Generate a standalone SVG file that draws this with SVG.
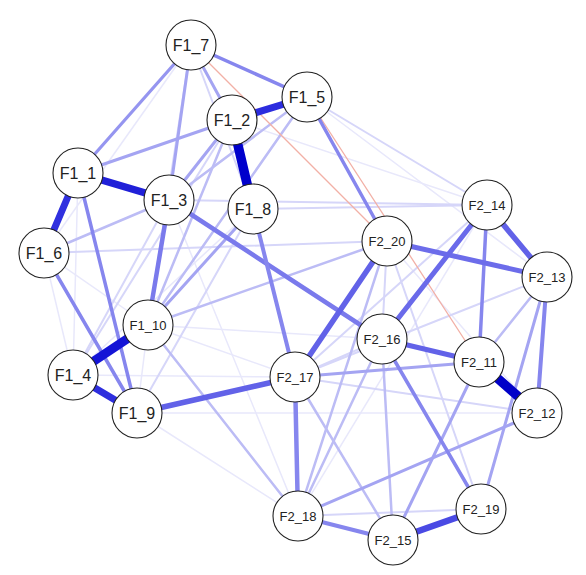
<svg xmlns="http://www.w3.org/2000/svg" width="586" height="575" viewBox="0 0 586 575">
<style>
line{stroke-linecap:round;fill:none}
.e7{stroke:#e8e8fb;stroke-width:1.5}
.e6{stroke:#d6d6f9;stroke-width:2}
.e5{stroke:#bcbcf5;stroke-width:2.5}
.e4{stroke:#a4a4f2;stroke-width:3}
.e3{stroke:#8686ee;stroke-width:4}
.e2{stroke:#6262e8;stroke-width:5.5}
.neg{stroke:#f2b0a6;stroke-width:1.3}
.n circle{fill:#ffffff;stroke:#222222;stroke-width:1.1}
.n text{font-family:"Liberation Sans",Arial,sans-serif;fill:#222222;text-anchor:middle;dominant-baseline:central}
.s4{font-size:16px}
.s5{font-size:13px}
</style>
<rect width="586" height="575" fill="#ffffff"/>
<g id="edges">
<line class="e7" x1="191" y1="45" x2="44" y2="253"/>
<line class="e7" x1="44" y1="253" x2="73" y2="375"/>
<line class="e7" x1="137" y1="413" x2="298" y2="516"/>
<line class="e7" x1="137" y1="413" x2="537" y2="413"/>
<line class="e7" x1="73" y1="375" x2="295" y2="377"/>
<line class="e7" x1="148" y1="325" x2="137" y2="413"/>
<line class="e7" x1="78" y1="173" x2="73" y2="375"/>
<line class="e7" x1="44" y1="253" x2="148" y2="325"/>
<line class="e7" x1="487" y1="205" x2="298" y2="516"/>
<line class="e7" x1="307" y1="97" x2="547" y2="277"/>
<line class="e7" x1="232" y1="120" x2="487" y2="205"/>
<line class="e7" x1="73" y1="375" x2="253" y2="209"/>
<line class="e7" x1="148" y1="325" x2="382" y2="339"/>
<line class="e7" x1="387" y1="241" x2="537" y2="413"/>
<line class="e7" x1="169" y1="200" x2="298" y2="516"/>
<line class="e7" x1="148" y1="325" x2="295" y2="377"/>
<line class="e6" x1="44" y1="253" x2="387" y2="241"/>
<line class="e6" x1="169" y1="200" x2="487" y2="205"/>
<line class="e6" x1="253" y1="209" x2="487" y2="205"/>
<line class="e6" x1="307" y1="97" x2="487" y2="205"/>
<line class="e6" x1="191" y1="45" x2="148" y2="325"/>
<line class="e6" x1="191" y1="45" x2="253" y2="209"/>
<line class="e6" x1="295" y1="377" x2="537" y2="413"/>
<line class="e6" x1="298" y1="516" x2="481" y2="509"/>
<line class="e6" x1="487" y1="205" x2="295" y2="377"/>
<line class="e6" x1="547" y1="277" x2="295" y2="377"/>
<line class="e6" x1="387" y1="241" x2="481" y2="509"/>
<line class="e6" x1="73" y1="375" x2="169" y2="200"/>
<line class="e6" x1="137" y1="413" x2="253" y2="209"/>
<line class="e6" x1="387" y1="241" x2="382" y2="339"/>
<line class="e6" x1="382" y1="339" x2="295" y2="377"/>
<line class="e6" x1="73" y1="375" x2="232" y2="120"/>
<line class="e5" x1="44" y1="253" x2="169" y2="200"/>
<line class="e5" x1="148" y1="325" x2="387" y2="241"/>
<line class="e5" x1="148" y1="325" x2="298" y2="516"/>
<line class="e5" x1="382" y1="339" x2="298" y2="516"/>
<line class="e5" x1="387" y1="241" x2="298" y2="516"/>
<line class="e5" x1="295" y1="377" x2="393" y2="540"/>
<line class="e5" x1="382" y1="339" x2="393" y2="540"/>
<line class="e5" x1="547" y1="277" x2="479" y2="362"/>
<line class="e5" x1="307" y1="97" x2="148" y2="325"/>
<line class="e5" x1="232" y1="120" x2="148" y2="325"/>
<line class="e5" x1="307" y1="97" x2="169" y2="200"/>
<line class="e4" x1="191" y1="45" x2="232" y2="120"/>
<line class="e4" x1="191" y1="45" x2="169" y2="200"/>
<line class="e4" x1="78" y1="173" x2="232" y2="120"/>
<line class="e4" x1="232" y1="120" x2="169" y2="200"/>
<line class="e4" x1="253" y1="209" x2="148" y2="325"/>
<line class="e4" x1="295" y1="377" x2="479" y2="362"/>
<line class="e4" x1="298" y1="516" x2="537" y2="413"/>
<line class="e4" x1="547" y1="277" x2="481" y2="509"/>
<line class="e4" x1="393" y1="540" x2="479" y2="362"/>
<line class="neg" x1="191" y1="45" x2="387" y2="241"/>
<line class="neg" x1="307" y1="97" x2="479" y2="362"/>
<line class="e3" style="stroke-width:3.5" x1="191" y1="45" x2="307" y2="97"/>
<line class="e3" style="stroke-width:3.2;stroke:#9595f0" x1="191" y1="45" x2="78" y2="173"/>
<line class="e3" style="stroke-width:3.5" x1="307" y1="97" x2="387" y2="241"/>
<line class="e3" style="stroke-width:3.5" x1="78" y1="173" x2="137" y2="413"/>
<line class="e3" style="stroke-width:3.5" x1="44" y1="253" x2="137" y2="413"/>
<line class="e3" x1="298" y1="516" x2="393" y2="540"/>
<line class="e3" style="stroke-width:3.5" x1="382" y1="339" x2="481" y2="509"/>
<line class="e3" style="stroke-width:3.5" x1="487" y1="205" x2="479" y2="362"/>
<line class="e3" x1="547" y1="277" x2="537" y2="413"/>
<line class="e3" style="stroke-width:4.5;stroke:#7a7aec" x1="169" y1="200" x2="382" y2="339"/>
<line class="e3" x1="253" y1="209" x2="295" y2="377"/>
<line class="e3" style="stroke-width:4.5;stroke:#7a7aec" x1="169" y1="200" x2="148" y2="325"/>
<line class="e3" style="stroke-width:4.5" x1="295" y1="377" x2="298" y2="516"/>
<line class="e2" x1="487" y1="205" x2="547" y2="277"/>
<line class="e2" style="stroke-width:5;stroke:#6c6cea" x1="387" y1="241" x2="547" y2="277"/>
<line class="e2" style="stroke-width:5" x1="382" y1="339" x2="479" y2="362"/>
<line class="e2" x1="137" y1="413" x2="295" y2="377"/>
<line class="e2" x1="387" y1="241" x2="295" y2="377"/>
<line class="e2" style="stroke-width:5;stroke:#6a6aea" x1="487" y1="205" x2="382" y2="339"/>
<line style="stroke:#4a4ae4;stroke-width:6.5" x1="393" y1="540" x2="481" y2="509"/>
<line style="stroke:#3030df;stroke-width:7" x1="78" y1="173" x2="44" y2="253"/>
<line style="stroke:#2e2ede;stroke-width:7" x1="73" y1="375" x2="137" y2="413"/>
<line style="stroke:#2020d8;stroke-width:7.5" x1="78" y1="173" x2="169" y2="200"/>
<line style="stroke:#2c2cde;stroke-width:7" x1="232" y1="120" x2="307" y2="97"/>
<line style="stroke:#1414d6;stroke-width:9" x1="148" y1="325" x2="73" y2="375"/>
<line style="stroke:#0000cc;stroke-width:9.5" x1="232" y1="120" x2="253" y2="209"/>
<line style="stroke:#0000c8;stroke-width:9.5" x1="479" y1="362" x2="537" y2="413"/>
</g>
<g id="F1_7" class="n"><circle cx="191" cy="45" r="25"/><text class="s4" x="191" y="45">F1_7</text></g>
<g id="F1_5" class="n"><circle cx="307" cy="97" r="25"/><text class="s4" x="307" y="97">F1_5</text></g>
<g id="F1_2" class="n"><circle cx="232" cy="120" r="25"/><text class="s4" x="232" y="120">F1_2</text></g>
<g id="F1_1" class="n"><circle cx="78" cy="173" r="25"/><text class="s4" x="78" y="173">F1_1</text></g>
<g id="F1_3" class="n"><circle cx="169" cy="200" r="25"/><text class="s4" x="169" y="200">F1_3</text></g>
<g id="F1_8" class="n"><circle cx="253" cy="209" r="25"/><text class="s4" x="253" y="209">F1_8</text></g>
<g id="F1_6" class="n"><circle cx="44" cy="253" r="25"/><text class="s4" x="44" y="253">F1_6</text></g>
<g id="F2_14" class="n"><circle cx="487" cy="205" r="25"/><text class="s5" x="487" y="205">F2_14</text></g>
<g id="F2_20" class="n"><circle cx="387" cy="241" r="25"/><text class="s5" x="387" y="241">F2_20</text></g>
<g id="F2_13" class="n"><circle cx="547" cy="277" r="25"/><text class="s5" x="547" y="277">F2_13</text></g>
<g id="F1_10" class="n"><circle cx="148" cy="325" r="25"/><text class="s5" x="148" y="325">F1_10</text></g>
<g id="F2_16" class="n"><circle cx="382" cy="339" r="25"/><text class="s5" x="382" y="339">F2_16</text></g>
<g id="F2_11" class="n"><circle cx="479" cy="362" r="25"/><text class="s5" x="479" y="362">F2_11</text></g>
<g id="F1_4" class="n"><circle cx="73" cy="375" r="25"/><text class="s4" x="73" y="375">F1_4</text></g>
<g id="F2_17" class="n"><circle cx="295" cy="377" r="25"/><text class="s5" x="295" y="377">F2_17</text></g>
<g id="F1_9" class="n"><circle cx="137" cy="413" r="25"/><text class="s4" x="137" y="413">F1_9</text></g>
<g id="F2_12" class="n"><circle cx="537" cy="413" r="25"/><text class="s5" x="537" y="413">F2_12</text></g>
<g id="F2_18" class="n"><circle cx="298" cy="516" r="25"/><text class="s5" x="298" y="516">F2_18</text></g>
<g id="F2_19" class="n"><circle cx="481" cy="509" r="25"/><text class="s5" x="481" y="509">F2_19</text></g>
<g id="F2_15" class="n"><circle cx="393" cy="540" r="25"/><text class="s5" x="393" y="540">F2_15</text></g>
</svg>
